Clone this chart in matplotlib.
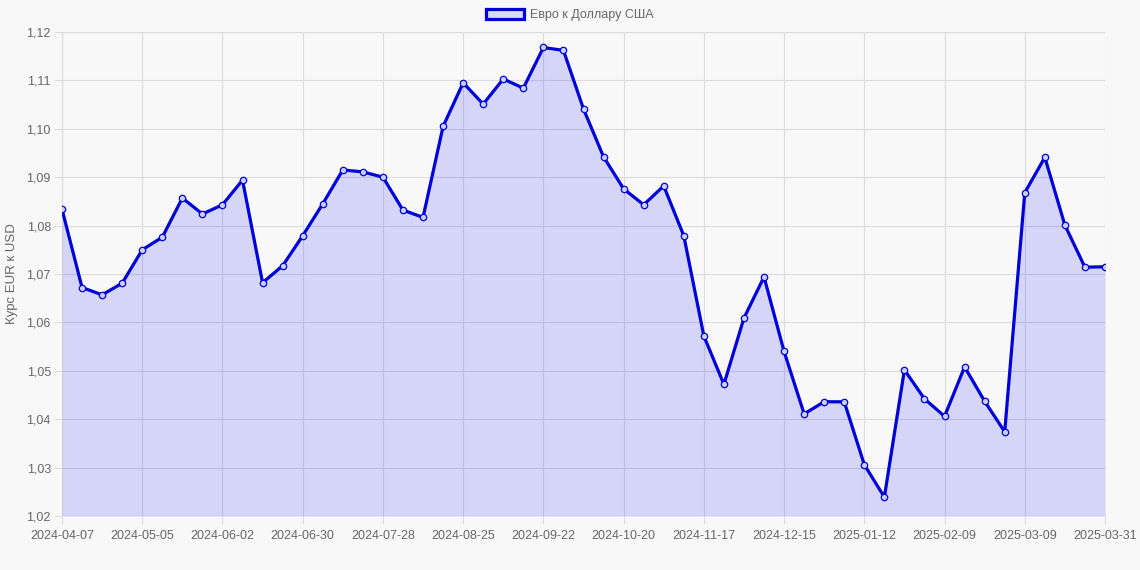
import matplotlib
matplotlib.use("Agg")
import matplotlib.pyplot as plt
from matplotlib.patches import Patch
from matplotlib.ticker import FuncFormatter

plt.rcParams['font.family'] = ['Liberation Sans', 'DejaVu Sans']

dates = [
    "2024-04-07", "2024-04-14", "2024-04-21", "2024-04-28", "2024-05-05", "2024-05-12",
    "2024-05-19", "2024-05-26", "2024-06-02", "2024-06-09", "2024-06-16", "2024-06-23",
    "2024-06-30", "2024-07-07", "2024-07-14", "2024-07-21", "2024-07-28", "2024-08-04",
    "2024-08-11", "2024-08-18", "2024-08-25", "2024-09-01", "2024-09-08", "2024-09-15",
    "2024-09-22", "2024-09-29", "2024-10-06", "2024-10-13", "2024-10-20", "2024-10-27",
    "2024-11-03", "2024-11-10", "2024-11-17", "2024-11-24", "2024-12-01", "2024-12-08",
    "2024-12-15", "2024-12-22", "2024-12-29", "2025-01-05", "2025-01-12", "2025-01-19",
    "2025-01-26", "2025-02-02", "2025-02-09", "2025-02-16", "2025-02-23", "2025-03-02",
    "2025-03-09", "2025-03-16", "2025-03-23", "2025-03-30", "2025-03-31",
]
rates = [
    1.0834, 1.0672, 1.0657, 1.0681, 1.0750, 1.0776, 1.0857, 1.0824, 1.0843, 1.0894,
    1.0682, 1.0717, 1.0779, 1.0845, 1.0915, 1.0911, 1.0900, 1.0832, 1.0817, 1.1005,
    1.1095, 1.1051, 1.1103, 1.1084, 1.1168, 1.1162, 1.1041, 1.0942, 1.0876, 1.0843,
    1.0882, 1.0779, 1.0572, 1.0472, 1.0609, 1.0694, 1.0540, 1.0411, 1.0436, 1.0436,
    1.0306, 1.0239, 1.0502, 1.0442, 1.0406, 1.0508, 1.0437, 1.0374, 1.0868, 1.0941,
    1.0801, 1.0714, 1.0715,
]
series_label = "Евро к Доллару США"
y_label = "Курс EUR к USD"
y_ticks = [1.02, 1.03, 1.04, 1.05, 1.06, 1.07, 1.08, 1.09, 1.10, 1.11, 1.12]

bg = '#f8f8f8'
line_c = '#0000d8'
fill_c = (0.0, 0.0, 1.0, 0.14)
grid_c = '#dcdcdc'
text_c = '#666666'

W, H = 1140, 570
fig = plt.figure(figsize=(W / 100, H / 100), dpi=100, facecolor=bg)
ax = fig.add_axes([62 / W, (H - 516) / H, (1105 - 62) / W, (516 - 32) / H])
ax.set_facecolor(bg)

x = list(range(len(dates)))
ax.fill_between(x, rates, 1.02, color=fill_c, linewidth=0, zorder=2)
ax.plot(x, rates, color=line_c, linewidth=2.3, zorder=3,
        marker='o', markersize=4.6, markerfacecolor=(0.80, 0.81, 0.96),
        markeredgecolor=line_c, markeredgewidth=0.9)

ax.set_xlim(0, len(dates) - 1)
ax.set_ylim(1.02, 1.12)

tick_idx = list(range(0, len(dates) - 1, 4)) + [len(dates) - 1]
ax.set_xticks(tick_idx)
ax.set_xticklabels([dates[i] for i in tick_idx])
ax.set_yticks(y_ticks)
ax.yaxis.set_major_formatter(FuncFormatter(lambda v, p: f"{v:.2f}".replace('.', ',')))

ax.grid(True, color=grid_c, linewidth=0.8, zorder=1)
for s in ax.spines.values():
    s.set_visible(False)
ax.axhline(1.12, color=grid_c, linewidth=0.8, zorder=1)
ax.axhline(1.02, color='#c8c8c8', linewidth=0.8, zorder=1)
ax.axvline(0, color='#c8c8c8', linewidth=0.8, zorder=1)
ax.axvline(len(dates) - 1, color=grid_c, linewidth=0.8, zorder=1)

ax.tick_params(axis='both', colors=grid_c, labelcolor=text_c, labelsize=9,
               length=6, width=0.8)
ax.tick_params(axis='x', pad=4)
ax.tick_params(axis='y', pad=2)

ax.set_ylabel(y_label, color=text_c, fontsize=9.5)
ax.yaxis.set_label_coords(-44 / (1105 - 62), 0.5)

handle = Patch(facecolor=(0.84, 0.85, 0.97), edgecolor=line_c, linewidth=2.3)
fig.legend([handle], [series_label], loc='center', bbox_to_anchor=(570 / W, 1 - 15 / H),
           frameon=False, fontsize=9, labelcolor=text_c, handlelength=3.0,
           handleheight=0.9, handletextpad=0.5)

fig.savefig("out.png", dpi=100, facecolor=bg)
